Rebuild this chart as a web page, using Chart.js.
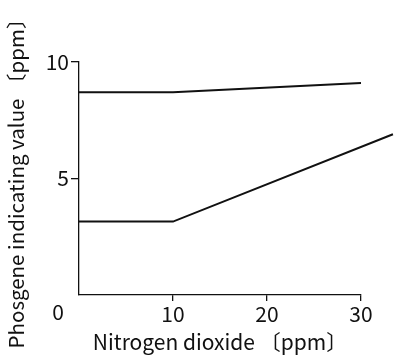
<!DOCTYPE html>
<html>
<head>
<meta charset="utf-8">
<script src="https://cdn.jsdelivr.net/npm/chart.js@4"></script>
<style>
  html, body { margin: 0; padding: 0; background: #fff; }
  #wrap { width: 394px; height: 357px; position: relative; }
</style>
</head>
<body>
<div id="wrap"><canvas id="phosgeneChart"></canvas></div>
<script>
// values
const upperX = [0, 10, 30];
const upperY = [8.7, 8.7, 9.1];
const lowerX = [0, 10, 33.4];
const lowerY = [3.15, 3.15, 6.9];
const xTicks = [0, 10, 20, 30];
const yTicks = [0, 5, 10];

const fontFamily = '"Noto Sans CJK JP", "Noto Sans", sans-serif';

function toPoints(xs, ys) {
    return xs.map((x, i) => ({ x: x, y: ys[i] }));
}

// the "0" at the origin sits apart from the axis ticks
const originLabel = {
    id: 'originLabel',
    afterDraw(chart) {
        const ctx = chart.ctx;
        const x = chart.scales.x.getPixelForValue(0);
        const y = chart.scales.y.getPixelForValue(0);
        ctx.save();
        ctx.font = '21px ' + fontFamily;
        ctx.fillStyle = '#111';
        ctx.textAlign = 'center';
        ctx.textBaseline = 'middle';
        ctx.fillText('0', x - 21, y + 17);
        ctx.restore();
    }
};

document.addEventListener('DOMContentLoaded', function() {
    const ctx = document.getElementById('phosgeneChart').getContext('2d');
    new Chart(ctx, {
        type: 'line',
        data: {
            datasets: [{
                data: toPoints(upperX, upperY),
                borderColor: '#111',
                borderWidth: 2,
                pointRadius: 0,
                clip: false
            }, {
                data: toPoints(lowerX, lowerY),
                borderColor: '#111',
                borderWidth: 2,
                pointRadius: 0,
                clip: false
            }]
        },
        options: {
            responsive: true,
            maintainAspectRatio: false,
            animation: false,
            layout: { padding: { top: 62, right: 33, left: 0, bottom: 0 } },
            plugins: {
                legend: { display: false },
                tooltip: { enabled: false }
            },
            scales: {
                x: {
                    type: 'linear',
                    min: 0,
                    max: 30,
                    afterBuildTicks: function(scale) {
                        scale.ticks = xTicks.map(v => ({ value: v }));
                    },
                    afterFit: function(scale) { scale.height = 62; },
                    border: { color: '#111', width: 1.3 },
                    grid: {
                        drawOnChartArea: false,
                        tickLength: 6,
                        lineWidth: 1.3,
                        color: c => c.tick && c.tick.value === 0 ? 'rgba(0,0,0,0)' : '#111'
                    },
                    ticks: {
                        padding: 0,
                        maxRotation: 0,
                        color: '#111',
                        font: { family: fontFamily, size: 21 },
                        callback: v => v === 0 ? '' : String(v)
                    },
                    title: {
                        display: true,
                        text: 'Nitrogen dioxide 〔ppm〕',
                        color: '#111',
                        font: { family: fontFamily, size: 21 },
                        padding: { top: 0, bottom: 2 }
                    }
                },
                y: {
                    min: 0,
                    max: 10,
                    afterBuildTicks: function(scale) {
                        scale.ticks = yTicks.map(v => ({ value: v }));
                    },
                    afterFit: function(scale) { scale.width = 79; },
                    border: { color: '#111', width: 1.3 },
                    grid: {
                        drawOnChartArea: false,
                        tickLength: 8,
                        lineWidth: 1.3,
                        color: c => c.tick && c.tick.value === 0 ? 'rgba(0,0,0,0)' : '#111'
                    },
                    ticks: {
                        padding: 2,
                        color: '#111',
                        font: { family: fontFamily, size: 21 },
                        callback: v => v === 0 ? '' : String(v)
                    },
                    title: {
                        display: true,
                        text: 'Phosgene indicating value 〔ppm〕',
                        color: '#111',
                        font: { family: fontFamily, size: 20.5 },
                        padding: { top: 4, bottom: 0 }
                    }
                }
            }
        },
        plugins: [originLabel]
    });
});
</script>
</body>
</html>
